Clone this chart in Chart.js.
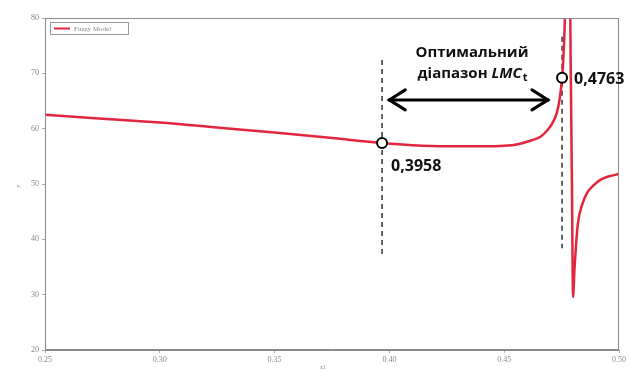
<!DOCTYPE html>
<html>
<head>
<meta charset="utf-8">
<script src="https://cdn.jsdelivr.net/npm/chart.js@4/dist/chart.umd.min.js"></script>
<style>
  html, body { margin: 0; padding: 0; background: #fff; }
  #wrap { width: 630px; height: 372px; }
</style>
</head>
<body>
<div id="wrap"><canvas id="chart"></canvas></div>
<script>
// curve (x, y), one pole near 0.476
const curveX = [0.250, 0.275, 0.300, 0.325, 0.350, 0.375, 0.3968, 0.410, 0.425, 0.440, 0.450, 0.456, 0.462, 0.466, 0.469, 0.471, 0.473, 0.4742, 0.4752, 0.4758, 0.4763, 0.4768,
                0.4786, 0.4790, 0.4795, 0.4800, 0.4806, 0.4812, 0.4821, 0.4840, 0.4861, 0.4890, 0.4917, 0.4950, 0.5000];
const curveY = [62.5, 61.8, 61.1, 60.2, 59.3, 58.3, 57.4, 57.0, 56.8, 56.8, 56.9, 57.2, 57.9, 58.6, 59.8, 61.0, 63.0, 65.5, 69.2, 73.0, 78.0, 86.0,
                86.0, 70.0, 50.0, 29.6, 34.5, 38.5, 42.9, 46.3, 48.4, 49.8, 50.7, 51.3, 51.8];

// marked points and their labels
const markX = [0.3968, 0.4752];
const markY = [57.4, 69.2];
const markLabels = ["0,3958", "0,4763"];

// dashed guide lines (top, bottom)
const guideTop = [72.4, 76.6];
const guideBottom = [37.2, 38.4];

// double arrow
const arrowX = [0.3995, 0.4695];
const arrowY = 65.2;

const xTicks = [0.25, 0.30, 0.35, 0.40, 0.45, 0.50];
const yTicks = [20, 30, 40, 50, 60, 70, 80];
const legendText = "Fuzzy Model";

const red = "#e2263d";

const overlay = {
  id: "overlay",
  afterDraw(chart) {
    const { ctx, chartArea: a, scales: { x, y } } = chart;
    ctx.save();

    // frame
    ctx.strokeStyle = "#8a8a8a";
    ctx.lineWidth = 1;
    ctx.strokeRect(a.left + 0.5, a.top + 0.5, a.width - 1, a.height - 1);

    // legend box
    ctx.fillStyle = "#fff";
    ctx.fillRect(50, 22, 78, 12);
    ctx.strokeStyle = "#9a9a9a";
    ctx.strokeRect(50.5, 22.5, 78, 12);
    ctx.strokeStyle = red;
    ctx.lineWidth = 2;
    ctx.beginPath(); ctx.moveTo(54, 28.5); ctx.lineTo(70, 28.5); ctx.stroke();
    ctx.fillStyle = "#888";
    ctx.font = "7px 'Liberation Serif'";
    ctx.textBaseline = "middle";
    ctx.fillText(legendText, 74, 29);

    // arrow heads
    const ay = y.getPixelForValue(arrowY);
    const ax0 = x.getPixelForValue(arrowX[0]);
    const ax1 = x.getPixelForValue(arrowX[1]);
    ctx.strokeStyle = "#000";
    ctx.lineWidth = 3;
    ctx.lineCap = "round";
    ctx.beginPath();
    ctx.moveTo(ax0 + 17, ay - 10); ctx.lineTo(ax0 + 1, ay); ctx.lineTo(ax0 + 17, ay + 10);
    ctx.moveTo(ax1 - 17, ay - 10); ctx.lineTo(ax1 - 1, ay); ctx.lineTo(ax1 - 17, ay + 10);
    ctx.stroke();

    // texts
    ctx.fillStyle = "#111";
    ctx.font = "bold 15px 'Open Sans'";
    ctx.textBaseline = "alphabetic";
    ctx.textAlign = "center";
    ctx.fillText("Оптимальний", 472, 57);
    const w1 = ctx.measureText("діапазон ").width;
    ctx.font = "italic bold 15px 'Open Sans'";
    const w2 = ctx.measureText("LMC").width;
    ctx.font = "bold 11px 'Open Sans'";
    const w3 = ctx.measureText("t").width;
    const sx = 472 - (w1 + w2 + w3) / 2;
    ctx.textAlign = "left";
    ctx.font = "bold 15px 'Open Sans'";
    ctx.fillText("діапазон ", sx, 78);
    ctx.font = "italic bold 15px 'Open Sans'";
    ctx.fillText("LMC", sx + w1, 78);
    ctx.font = "bold 11px 'Open Sans'";
    ctx.fillText("t", sx + w1 + w2 + 1, 81);

    ctx.font = "bold 16px 'Open Sans'";
    ctx.fillText(markLabels[0], x.getPixelForValue(markX[0]) + 9, 171);
    ctx.fillText(markLabels[1], x.getPixelForValue(markX[1]) + 12, 84);

    // axis titles
    ctx.fillStyle = "#888";
    ctx.font = "6px 'Liberation Serif'";
    ctx.textAlign = "center";
    ctx.fillText("x1", 323, 369);
    ctx.translate(20, 186);
    ctx.rotate(-Math.PI / 2);
    ctx.fillText("y", 0, 0);
    ctx.restore();
  }
};

new Chart(document.getElementById("chart"), {
  type: "scatter",
  data: {
    datasets: [
      {
        data: markX.map((v, i) => ({ x: v, y: markY[i] })),
        showLine: false,
        pointRadius: 5,
        pointBackgroundColor: "#fff",
        pointBorderColor: "#000",
        pointBorderWidth: 2,
      },
      {
        data: curveX.map((v, i) => ({ x: v, y: curveY[i] })),
        showLine: true,
        pointRadius: 0,
        borderColor: red,
        borderWidth: 2.5,
        cubicInterpolationMode: "monotone",
      },
      ...markX.map((v, i) => ({
        data: [{ x: v, y: guideTop[i] }, { x: v, y: guideBottom[i] }],
        showLine: true,
        pointRadius: 0,
        borderColor: "#111",
        borderWidth: 1.3,
        borderDash: [5, 4],
      })),
      {
        data: arrowX.map((v) => ({ x: v, y: arrowY })),
        showLine: true,
        pointRadius: 0,
        borderColor: "#000",
        borderWidth: 3,
      },
    ],
  },
  options: {
    responsive: true,
    maintainAspectRatio: false,
    animation: false,
    layout: { padding: { top: 18, right: 11, left: 0, bottom: 0 } },
    plugins: { legend: { display: false }, tooltip: { enabled: false } },
    scales: {
      x: {
        type: "linear",
        min: 0.25,
        max: 0.5,
        afterBuildTicks: (s) => { s.ticks = xTicks.map((v) => ({ value: v })); },
        afterFit: (s) => { s.height = 22; },
        ticks: {
          callback: (v) => v.toFixed(2),
          font: { size: 8, family: "'Liberation Serif'" },
          color: "#888",
          padding: 2,
          maxRotation: 0,
        },
        grid: { drawOnChartArea: false, tickLength: 3, color: "#aaa" },
        border: { color: "#8a8a8a" },
      },
      y: {
        min: 20,
        max: 80,
        afterBuildTicks: (s) => { s.ticks = yTicks.map((v) => ({ value: v })); },
        afterFit: (s) => { s.width = 45; },
        ticks: {
          font: { size: 8, family: "'Liberation Serif'" },
          color: "#888",
          padding: 3,
        },
        grid: { drawOnChartArea: false, tickLength: 3, color: "#aaa" },
        border: { color: "#8a8a8a" },
      },
    },
  },
  plugins: [overlay],
});
</script>
</body>
</html>
